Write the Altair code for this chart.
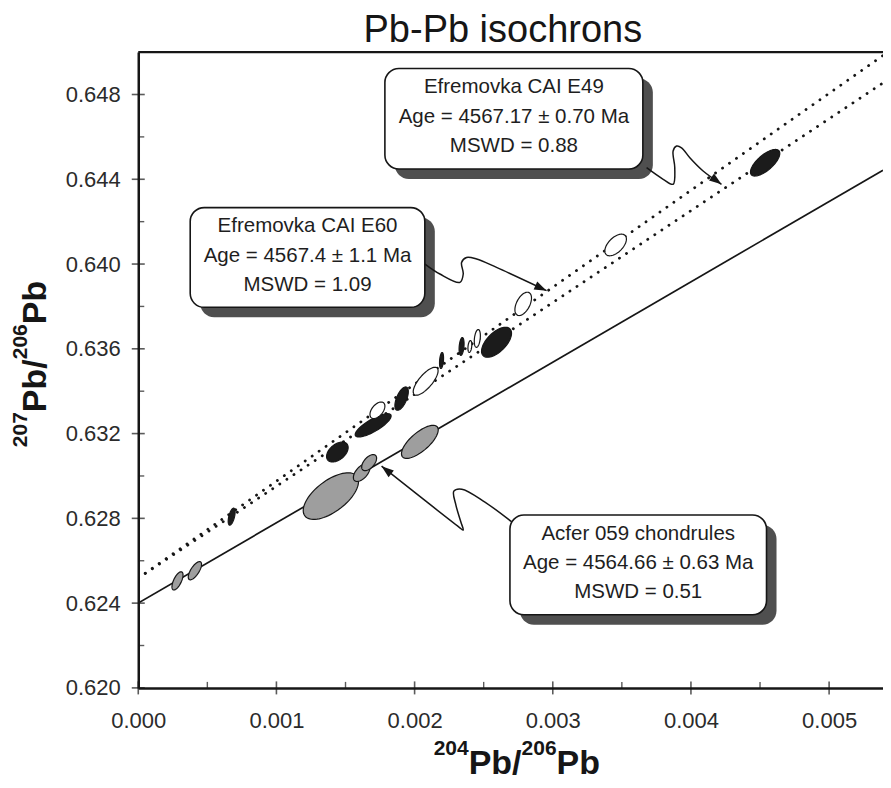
import math
import numpy as np
import pandas as pd
import altair as alt

# ---------------- data ----------------
x_major = [0.000, 0.001, 0.002, 0.003, 0.004, 0.005]
x_minor = [0.0005, 0.0015, 0.0025, 0.0035, 0.0045]
y_major = [0.620, 0.624, 0.628, 0.632, 0.636, 0.640, 0.644, 0.648]
y_minor = [0.622, 0.626, 0.630, 0.634, 0.638, 0.642, 0.646]

iso_key = ["Acfer", "E60", "E49"]
iso_intercept = [0.62400, 0.62518, 0.62518]
iso_slope = [3.79, 4.575, 4.335]

ell_set = ["Acfer"] * 6 + ["E49"] * 8 + ["E60"] * 6
ell_x = [0.000284, 0.000410, 0.001394, 0.001617, 0.001671, 0.002038,
         0.000676, 0.001441, 0.001700, 0.001906, 0.002195, 0.002340, 0.002593, 0.004537,
         0.001731, 0.002080, 0.002400, 0.002454, 0.002786, 0.003455]
ell_y = [0.62505, 0.62553, 0.62905, 0.63016, 0.63063, 0.63161,
         0.62808, 0.63113, 0.63239, 0.63365, 0.63545, 0.63611, 0.63631, 0.64478,
         0.63310, 0.63447, 0.63611, 0.63649, 0.63812, 0.64090]
ell_sx = [0.000040, 0.000048, 0.000200, 0.000060, 0.000054, 0.000133,
          0.000025, 0.000078, 0.000130, 0.0000485, 0.0000145, 0.000018, 0.0001085, 0.000106,
          0.000054, 0.000090, 0.000014, 0.000022, 0.000060, 0.000078]
ell_sy = [0.00043, 0.00043, 0.00110, 0.00042, 0.00038, 0.00078,
          0.00040, 0.00047, 0.00055, 0.00055, 0.000376, 0.00042, 0.000706, 0.000627,
          0.00039, 0.00066, 0.00028, 0.00042, 0.00055, 0.00051]
ell_rho = [0.65, 0.70, 0.62, 0.55, 0.55, 0.72,
           0.55, 0.45, 0.80, 0.60, 0.30, 0.30, 0.60, 0.70,
           0.50, 0.75, 0.30, 0.30, 0.50, 0.55]

box_line1 = ["Acfer 059 chondrules", "Efremovka CAI E60", "Efremovka CAI E49"]
box_line2 = ["Age = 4564.66 ± 0.63 Ma", "Age = 4567.4 ± 1.1 Ma", "Age = 4567.17 ± 0.70 Ma"]
box_line3 = ["MSWD = 0.51", "MSWD = 1.09", "MSWD = 0.88"]

# ---------------- annotation layout (data coordinates) ----------------
box_x0 = [0.002690, 0.000376, 0.001785]
box_x1 = [0.004547, 0.002074, 0.003652]
box_top = [0.628155, 0.642664, 0.649224]
box_bot = [0.623450, 0.637958, 0.644485]
line_frac = [0.185, 0.485, 0.775]

conn_x = [
    [2.702, 2.509, 2.342, 2.284, 2.299, 2.335, 2.352, 2.321, 1.761],
    [2.075, 2.183, 2.328, 2.352, 2.340, 2.376, 2.449, 2.593, 2.955],
    [3.679, 3.799, 3.871, 3.883, 3.871, 3.896, 3.932, 3.992, 4.088, 4.221],
]
conn_y = [
    [0.627840, 0.628767, 0.629379, 0.629285, 0.628626, 0.627826, 0.627449, 0.627591, 0.630461],
    [0.640000, 0.639529, 0.639134, 0.639529, 0.640075, 0.640311, 0.640235, 0.639840, 0.638744],
    [0.644546, 0.644000, 0.643765, 0.644546, 0.645332, 0.645567, 0.645487, 0.645016, 0.644391, 0.643765],
]

# ---------------- geometry / style ----------------
XMAX = 0.00539
YMIN, YMAX = 0.620, 0.650
W, H = 745, 636
PXX = W / XMAX              # pixels per x unit
PXY = H / (YMAX - YMIN)     # pixels per y unit
LEFT, TOP = 130.3, 44.0     # padding inside the svg
PLOT_L = 8 + LEFT
PLOT_T = 8 + TOP
FONT = "Liberation Sans"
INK = "#161616"

XS = alt.Scale(domain=[0, XMAX], nice=False, zero=False)
YS = alt.Scale(domain=[YMIN, YMAX], nice=False, zero=False)
XA = alt.Axis(values=x_major, format=".3f", title=None, grid=False, ticks=False, tickSize=0,
              labelFont=FONT, labelFontSize=22, labelColor="#2b2b2b", labelPadding=23,
              domainWidth=2.5, domainColor=INK, labelFlush=False)
YA = alt.Axis(values=y_major, format=".3f", title=None, grid=False, ticks=False, tickSize=0,
              labelFont=FONT, labelFontSize=22, labelColor="#2b2b2b", labelPadding=18,
              domainWidth=2.5, domainColor=INK, labelFlush=False)


def X(f):
    return alt.X(f, type="quantitative", scale=XS, axis=XA)


def Y(f, **kw):
    return alt.Y(f, type="quantitative", scale=YS, axis=YA, **kw)


# isochron lines
rows = []
for k, a, b in zip(iso_key, iso_intercept, iso_slope):
    for xx in (0.0, XMAX):
        rows.append({"iso": k, "x": xx, "y": a + b * xx})
iso_df = pd.DataFrame(rows)

solid = alt.Chart(iso_df[iso_df.iso == "Acfer"]).mark_line(
    color=INK, strokeWidth=1.7, clip=True).encode(x=X("x"), y=Y("y"), detail="iso:N")
dotted = alt.Chart(iso_df[iso_df.iso != "Acfer"]).mark_line(
    color=INK, strokeWidth=2.8, strokeDash=[0.1, 8.4], strokeCap="round", clip=True
).encode(x=X("x"), y=Y("y"), detail="iso:N")

# error ellipses: each drawn as a symbol whose outline is the 2-sigma error ellipse
t = np.linspace(0, 2 * np.pi, 73)[:-1]
erows = []
for g, cx, cy, sx, sy, r in zip(ell_set, ell_x, ell_y, ell_sx, ell_sy, ell_rho):
    s = math.sqrt(1 - r * r)
    dx = sx * np.cos(t) * PXX
    dy = -sy * (r * np.cos(t) + s * np.sin(t)) * PXY
    R = float(max(np.abs(dx).max(), np.abs(dy).max()))
    pts = " L".join(f"{a / R:.4f},{b / R:.4f}" for a, b in zip(dx, dy))
    erows.append({"set": g, "x": cx, "y": cy, "path": "M" + pts + " Z", "sz": (2 * R) ** 2})
ell_df = pd.DataFrame(erows)


def ellipse_layer(g, fillc):
    return alt.Chart(ell_df[ell_df["set"] == g]).mark_point(
        filled=True, fill=fillc, stroke=INK, strokeWidth=1.2, opacity=1, fillOpacity=1
    ).encode(x=X("x"), y=Y("y"),
             shape=alt.Shape("path:N", scale=None),
             size=alt.Size("sz:Q", scale=None))


ell_gray = ellipse_layer("Acfer", "#9e9e9e")
ell_black = ellipse_layer("E49", "#1b1b1b")
ell_white = ellipse_layer("E60", "#ffffff")

# annotation boxes
box_df = pd.DataFrame({"x0": box_x0, "x1": box_x1, "yt": box_top, "yb": box_bot})
shadow = alt.Chart(box_df).mark_rect(
    cornerRadius=14, fill="#4f4f4f", xOffset=10, x2Offset=10, yOffset=10, y2Offset=10
).encode(x=X("x0"), x2=alt.X2("x1"), y=Y("yt"), y2=alt.Y2("yb"))
boxes = alt.Chart(box_df).mark_rect(
    cornerRadius=14, fill="white", stroke=INK, strokeWidth=1.6
).encode(x=X("x0"), x2=alt.X2("x1"), y=Y("yt"), y2=alt.Y2("yb"))

trows = []
for j in range(3):
    cxm = (box_x0[j] + box_x1[j]) / 2
    for f, s in zip(line_frac, (box_line1[j], box_line2[j], box_line3[j])):
        trows.append({"x": cxm, "y": box_top[j] - f * (box_top[j] - box_bot[j]), "t": s})
texts = alt.Chart(pd.DataFrame(trows)).mark_text(
    font=FONT, fontSize=20.5, color="#1e1e1e", align="center", baseline="middle"
).encode(x=X("x"), y=Y("y"), text="t:N")

# connectors and arrowheads
crows, arows = [], []
for j in range(3):
    xs = [v / 1000 for v in conn_x[j]]
    ys = conn_y[j]
    for k, (a, b) in enumerate(zip(xs, ys)):
        crows.append({"cid": j, "k": k, "x": a, "y": b})
    dxp = (xs[-1] - xs[-2]) * PXX
    dyp = -(ys[-1] - ys[-2]) * PXY
    arows.append({"x": xs[-1], "y": ys[-1], "ang": math.degrees(math.atan2(dyp, dxp)) % 360})
connectors = alt.Chart(pd.DataFrame(crows)).mark_line(
    color=INK, strokeWidth=1.5, interpolate="catmull-rom"
).encode(x=X("x"), y=Y("y"), detail="cid:N", order=alt.Order("k:Q"))
ARROW = "M0,0 L-2,-0.7 L-2,0.7 Z"
arrows = alt.Chart(pd.DataFrame(arows)).mark_point(
    shape=ARROW, filled=True, color=INK, size=150, opacity=1, strokeWidth=0
).encode(x=X("x"), y=Y("y"), angle=alt.Angle("ang:Q", scale=None))

# axis ticks (major ticks cross the axis, minor ticks inside)
xt = alt.Chart(pd.DataFrame({"x": x_major, "y": [YMIN] * len(x_major)})).mark_tick(
    orient="vertical", size=13, thickness=1.6, color=INK).encode(x=X("x"), y=Y("y"))
xm = alt.Chart(pd.DataFrame({"x": x_minor, "y": [YMIN] * len(x_minor)})).mark_tick(
    orient="vertical", size=6, thickness=1.4, color=INK, yOffset=-3).encode(x=X("x"), y=Y("y"))
yt = alt.Chart(pd.DataFrame({"x": [0.0] * len(y_major), "y": y_major})).mark_tick(
    orient="horizontal", size=13, thickness=1.6, color=INK).encode(x=X("x"), y=Y("y"))
ym = alt.Chart(pd.DataFrame({"x": [0.0] * len(y_minor), "y": y_minor})).mark_tick(
    orient="horizontal", size=6, thickness=1.4, color=INK, xOffset=3).encode(x=X("x"), y=Y("y"))
top_rule = alt.Chart(pd.DataFrame({"y": [YMAX]})).mark_rule(
    color=INK, strokeWidth=2.4).encode(y=Y("y"))


# titles (text pieces placed in page pixels)
def piece(s, px, py, size, weight="bold", angle=0, align="left"):
    return alt.Chart(pd.DataFrame({"t": [s]})).mark_text(
        font=FONT, fontSize=size, fontWeight=weight, angle=angle, align=align,
        baseline="alphabetic", color=INK
    ).encode(text="t:N", x=alt.value(px - PLOT_L), y=alt.value(py - PLOT_T))


title = piece("Pb-Pb isochrons", 503, 42, 38, weight="normal", align="center")

FS_MAIN, FS_SUP = 34, 21
w_sup = 3 * 0.556 * FS_SUP
w_pbs = (0.667 + 0.611 + 0.278) * FS_MAIN
w_pb = (0.667 + 0.611) * FS_MAIN
total = 2 * w_sup + w_pbs + w_pb

# x title
x0 = 517 - total / 2
xb_main, xb_sup = 774, 755
xtitle = [
    piece("204", x0, xb_sup, FS_SUP),
    piece("Pb/", x0 + w_sup, xb_main, FS_MAIN),
    piece("206", x0 + w_sup + w_pbs, xb_sup, FS_SUP),
    piece("Pb", x0 + 2 * w_sup + w_pbs, xb_main, FS_MAIN),
]

# y title (rotated, reading upwards)
y0 = 364 + total / 2
yb_main, yb_sup = 46.5, 27
ytitle = [
    piece("207", yb_sup, y0, FS_SUP, angle=270),
    piece("Pb/", yb_main, y0 - w_sup, FS_MAIN, angle=270),
    piece("206", yb_sup, y0 - w_sup - w_pbs, FS_SUP, angle=270),
    piece("Pb", yb_main, y0 - 2 * w_sup - w_pbs, FS_MAIN, angle=270),
]

chart = alt.layer(
    solid, dotted, ell_gray, ell_black, ell_white, shadow, boxes, connectors, arrows, texts,
    xt, xm, yt, ym, top_rule, title, *xtitle, *ytitle
).properties(
    width=W, height=H,
    padding={"left": LEFT, "top": TOP, "right": 0, "bottom": 772 - TOP - H},
    autosize=alt.AutoSizeParams(type="none"),
    background="white",
).configure_view(stroke=None)

chart.save("out.html", embed_options={"renderer": "svg", "actions": False})
